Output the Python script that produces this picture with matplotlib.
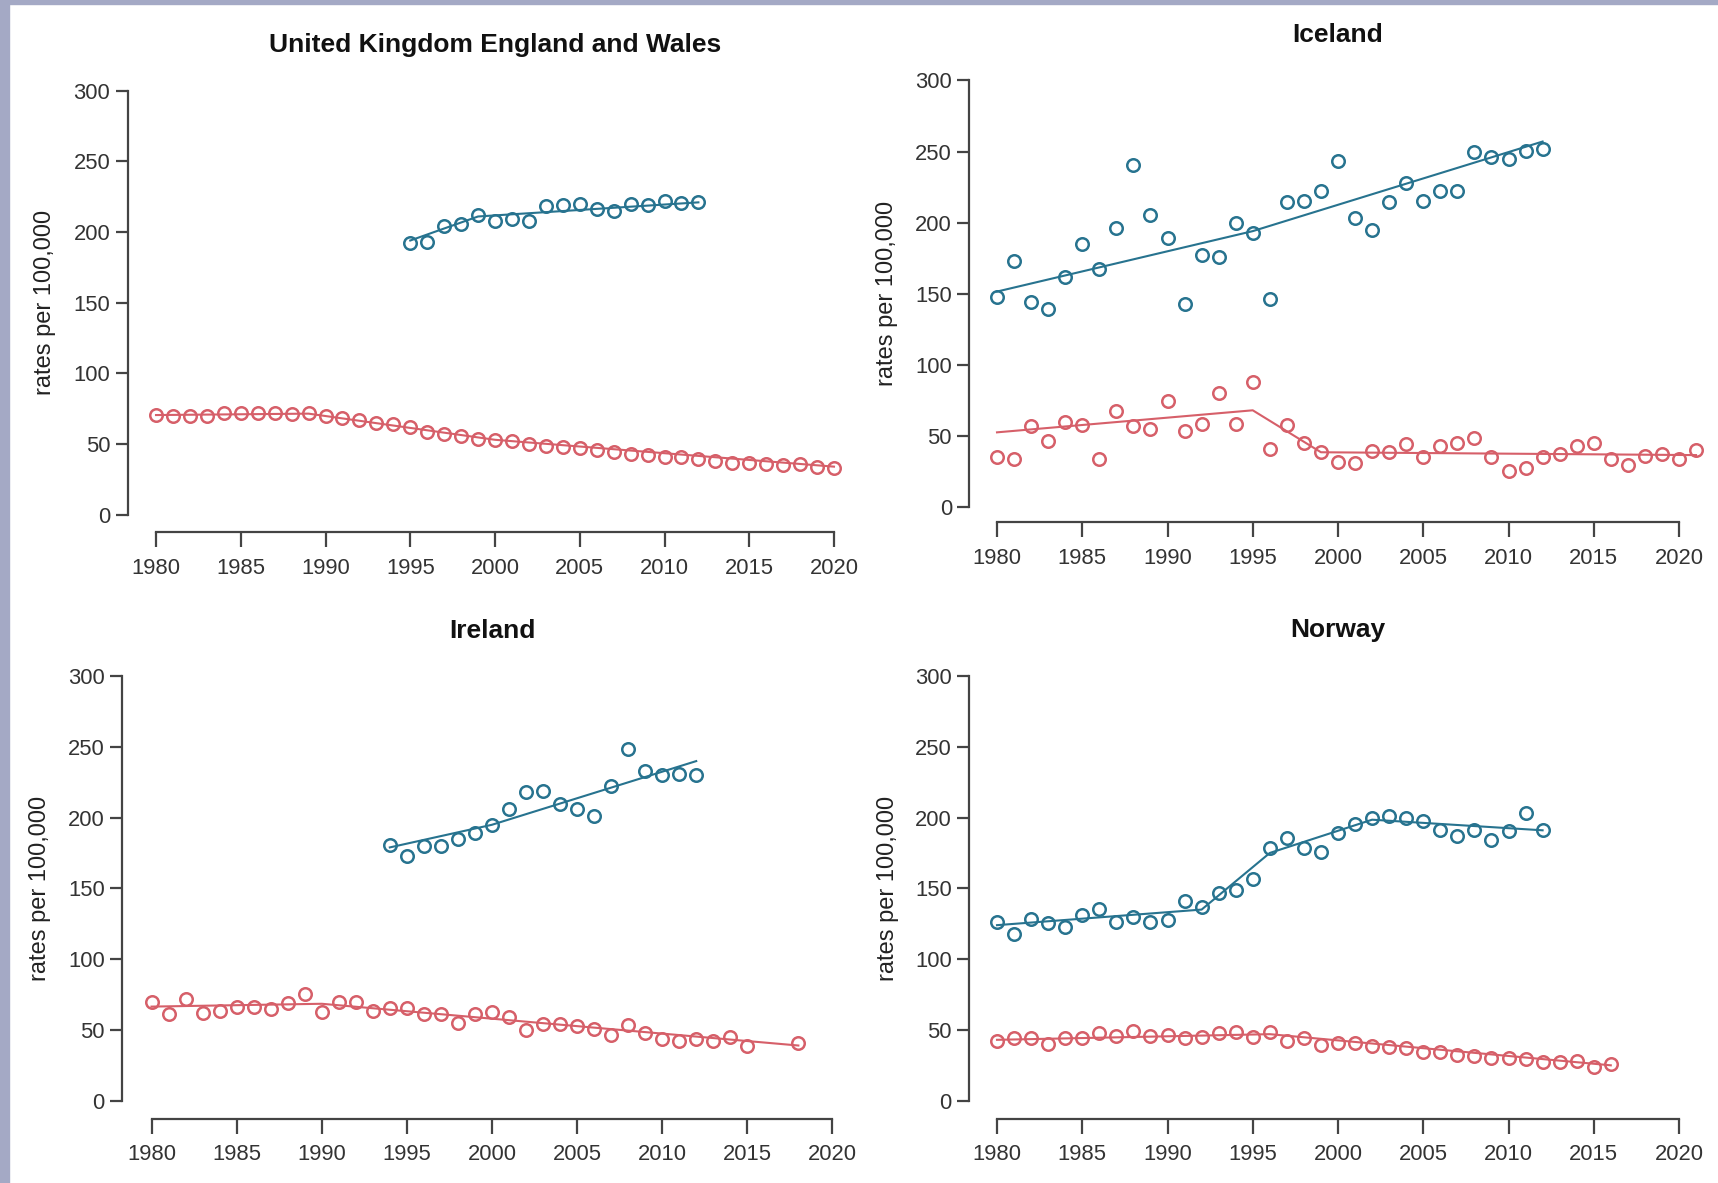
import matplotlib
matplotlib.use("Agg")
import matplotlib.pyplot as plt
from matplotlib import font_manager as fm
from matplotlib.patches import Rectangle
import numpy as np

# ---------------- data ----------------
uk_blue_years = list(range(1995, 2013))
uk_blue = [192, 193, 204, 206, 212, 208, 209, 208, 218.5, 219, 220, 216.5, 215, 220, 219, 222, 220.5, 221]
uk_blue_fit_years = [1995, 1999, 2012]
uk_blue_fit = [194, 211, 221]
uk_red_years = list(range(1980, 2021))
uk_red = [70.4, 70, 70, 70, 71.8, 72, 72.3, 72, 71, 72, 69.6, 68.5, 67, 65, 64, 62, 58.8, 57.4, 56, 53.6,
          52.8, 52, 50, 48.7, 48, 47.4, 46, 44.7, 43.3, 42.5, 40.6, 40.6, 39.3, 38, 36.5, 36.5, 36, 35.5, 36, 34, 33.3]
uk_red_fit_years = [1980, 1989, 2000, 2020]
uk_red_fit = [70.5, 71.5, 53, 34]

is_blue_years = list(range(1980, 2013))
is_blue = [148, 173, 144, 139, 161.5, 185, 167.5, 196, 240.5, 205, 189.5, 143, 177.5, 175.5, 200, 193, 146.5,
           214.5, 215, 222.5, 243, 203.5, 195, 214.5, 228, 215, 222.5, 222, 249.5, 246, 245, 250.5, 251.5]
is_blue_fit_years = [1980, 1995, 2012]
is_blue_fit = [151.5, 194, 257]
is_red_years = list(range(1980, 2022))
is_red = [35, 34, 57, 46.5, 59.5, 57.5, 33.5, 67.5, 57, 55, 74.5, 53.5, 58.5, 80, 58.5, 88, 41, 57.5, 45, 39,
          31.5, 31, 39.5, 39, 44.5, 35, 43, 45, 48.5, 35, 25, 27.5, 35, 37.5, 43, 45, 34, 29.5, 36, 37.5, 34, 40]
is_red_fit_years = [1980, 1995, 1999, 2021]
is_red_fit = [52.5, 68, 38.5, 36.5]

ie_blue_years = list(range(1994, 2013))
ie_blue = [180.5, 173, 180, 180, 185, 189, 195, 206, 218.5, 219, 209.5, 206, 201, 222.5, 248.5, 233, 230.5, 231, 230.5]
ie_blue_fit_years = [1994, 2000, 2012]
ie_blue_fit = [179, 195, 240]
ie_red_years = list(range(1980, 2016)) + [2018]
ie_red = [70, 61.5, 72, 62, 63.5, 66, 66.5, 65, 69, 75.5, 62.5, 69.5, 69.5, 63.5, 65.5, 65.5, 61.5, 61.5, 55, 61,
          62.5, 59.5, 50, 54.5, 54.5, 53, 51, 46.5, 53.5, 48, 43.5, 42.5, 43.5, 42, 45, 39, 40.5]
ie_red_fit_years = [1980, 1990, 2018]
ie_red_fit = [66.5, 68.5, 39]

no_blue_years = list(range(1980, 2013))
no_blue = [126.5, 118, 128, 125.5, 122.5, 131, 135.5, 126.5, 130, 126.5, 127.5, 141, 136.5, 147, 149, 156.5, 178.5,
           185.5, 178.5, 176, 189, 195.5, 200, 201, 200, 197.5, 191.5, 187, 191, 184, 190.5, 203, 191.5]
no_blue_fit_years = [1980, 1992, 1996, 2002, 2012]
no_blue_fit = [124, 135, 175, 198.5, 191]
no_red_years = list(range(1980, 2017))
no_red = [42.5, 44, 44, 40, 44, 44, 48, 45.5, 49, 45.5, 46.5, 44, 45, 47.5, 48.5, 45, 48.5, 42, 44.5, 39.5,
          40.5, 40.5, 38.5, 38, 37.5, 34.5, 34.5, 32, 31.5, 30.5, 30.5, 29.5, 27, 27.5, 28, 24, 26]
no_red_fit_years = [1980, 1996, 2016]
no_red_fit = [43, 47, 25]

titles = ["United Kingdom England and Wales", "Iceland", "Ireland", "Norway"]
x_ticks = [1980, 1985, 1990, 1995, 2000, 2005, 2010, 2015, 2020]
y_ticks = [0, 50, 100, 150, 200, 250, 300]
y_label = "rates per 100,000"

# ---------------- style ----------------
BLUE = "#27738f"
RED = "#d65f69"
AXC = "#444444"
W, H = 1718, 1183

names = {f.name for f in fm.fontManager.ttflist}
NARROW = "Liberation Sans Narrow" if "Liberation Sans Narrow" in names else "Liberation Sans"
TICK_FS = 17.5 if NARROW == "Liberation Sans Narrow" else 15.8
REG = "Liberation Sans"

fig = plt.figure(figsize=(W / 100, H / 100), dpi=100)
fig.patch.set_facecolor("white")
# page frame strips
fig.patches.append(Rectangle((0, 0), 9 / W, 1, transform=fig.transFigure, color="#a4a9c5", zorder=0))
fig.patches.append(Rectangle((0, 1 - 4 / H), 1, 4 / H, transform=fig.transFigure, color="#a4a9c5", zorder=0))

# pixel layout: (x1980, x2020, y300, y0, yaxis_x, xaxis_y, ylabel_x)
layout = [
    (156, 834, 90.7, 514.7, 127.6, 532, 45),
    (997, 1679, 80.4, 507, 969.4, 522.4, 887),
    (151.5, 832.4, 676.2, 1100.7, 122, 1118.6, 40),
    (997, 1679, 676, 1100.7, 969, 1118.6, 888),
]

series = [
    (uk_blue_years, uk_blue, uk_blue_fit_years, uk_blue_fit, uk_red_years, uk_red, uk_red_fit_years, uk_red_fit),
    (is_blue_years, is_blue, is_blue_fit_years, is_blue_fit, is_red_years, is_red, is_red_fit_years, is_red_fit),
    (ie_blue_years, ie_blue, ie_blue_fit_years, ie_blue_fit, ie_red_years, ie_red, ie_red_fit_years, ie_red_fit),
    (no_blue_years, no_blue, no_blue_fit_years, no_blue_fit, no_red_years, no_red, no_red_fit_years, no_red_fit),
]

PX2PT = 72 / 100

for title, (x0, x1, yt, yb, yax, xax, ylx), s in zip(titles, layout, series):
    ax = fig.add_axes([x0 / W, 1 - yb / H, (x1 - x0) / W, (yb - yt) / H])
    ax.set_xlim(1980, 2020)
    ax.set_ylim(0, 300)
    ax.patch.set_alpha(0)
    by, bv, bfy, bfv, ry, rv, rfy, rfv = s
    ax.plot(bfy, bfv, color=BLUE, lw=1.5, clip_on=False, zorder=2)
    ax.plot(rfy, rfv, color=RED, lw=1.5, clip_on=False, zorder=2)
    ax.plot(by, bv, ls="none", marker="o", ms=9, mfc="none", mec=BLUE, mew=1.8, clip_on=False, zorder=3)
    ax.plot(ry, rv, ls="none", marker="o", ms=9, mfc="none", mec=RED, mew=1.8, clip_on=False, zorder=3)

    for sp in ("top", "right"):
        ax.spines[sp].set_visible(False)
    ax.spines["left"].set_position(("outward", (x0 - yax) * PX2PT))
    ax.spines["bottom"].set_position(("outward", (xax - yb) * PX2PT))
    for sp in ("left", "bottom"):
        ax.spines[sp].set_color(AXC)
        ax.spines[sp].set_linewidth(1.6)
    ax.spines["left"].set_bounds(0, 300)
    ax.spines["bottom"].set_bounds(1980, 2020)
    ax.set_xticks(x_ticks)
    ax.set_yticks(y_ticks)
    ax.set_xticklabels([str(v) for v in x_ticks], fontfamily=NARROW, fontsize=TICK_FS, color="#333333")
    ax.set_yticklabels([str(v) for v in y_ticks], fontfamily=NARROW, fontsize=TICK_FS, color="#333333")
    ax.tick_params(axis="y", length=9, width=1.6, color=AXC, pad=3.5)
    ax.tick_params(axis="x", length=10.5, width=1.6, color=AXC, pad=8)

    fig.text((x0 + x1) / 2 / W, 1 - (yt - 38.5) / H, title, ha="center", va="baseline",
             fontfamily=REG, fontweight="bold", fontsize=19, color="#111111")
    fig.text(ylx / W, 1 - (yt + yb) / 2 / H, y_label, rotation=90, ha="center", va="center",
             fontfamily=REG, fontsize=17, color="#222222")

fig.savefig("out.png", dpi=100, facecolor="white")
